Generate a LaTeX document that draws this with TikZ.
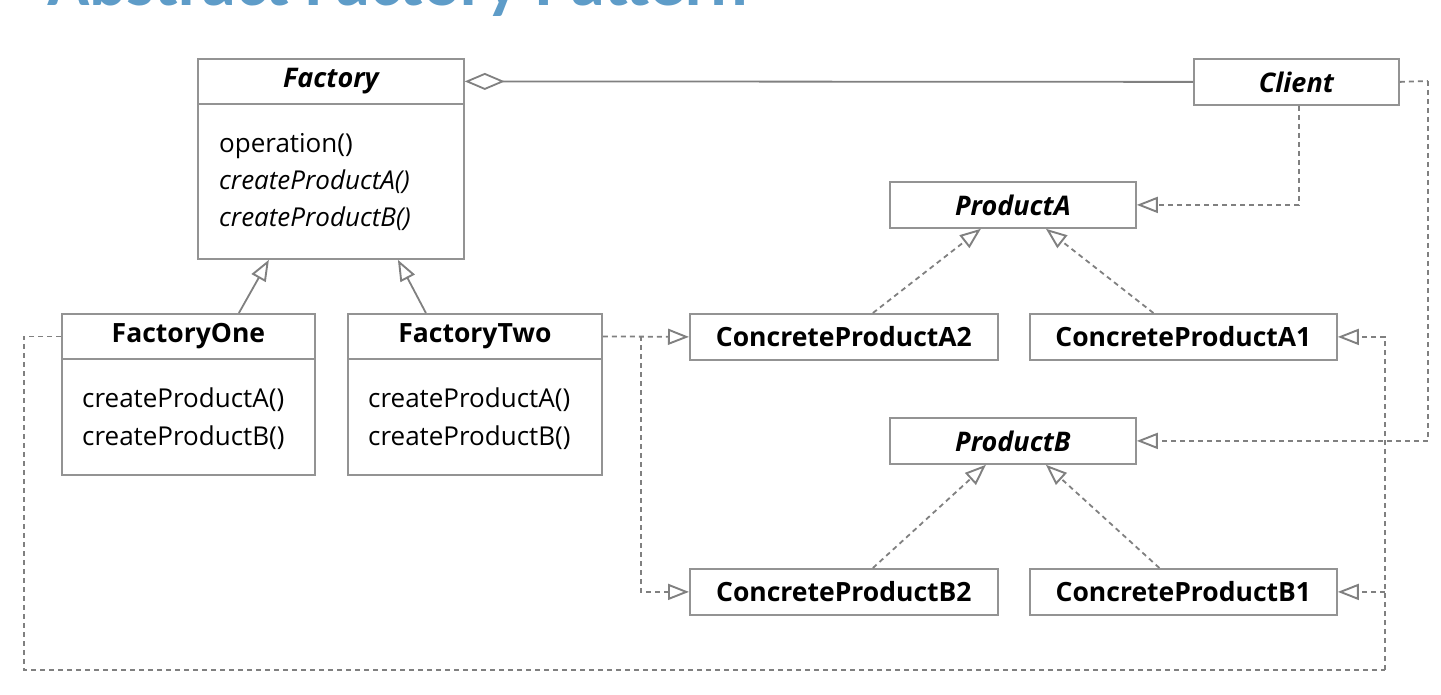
\documentclass[tikz,border=0pt]{standalone}
\usepackage{fontspec}
\setmainfont{Open Sans}
\newfontfamily\titlefont{Carlito}
\usetikzlibrary{arrows.meta}
\definecolor{boxgray}{HTML}{939393}
\definecolor{linegray}{HTML}{808080}
\definecolor{titleblue}{HTML}{5E9CC8}
\begin{document}
\begin{tikzpicture}[x=1pt,y=-1pt,
  box/.style={draw=boxgray,line width=1.8pt,inner sep=0pt,anchor=north west,fill=white},
  hdr/.style={box,minimum height=45pt,font=\fontsize{26.5}{30}\selectfont\bfseries},
  ihdr/.style={hdr,font=\fontsize{27}{30}\selectfont\bfseries\itshape},
  body/.style={box},
  meth/.style={anchor=base west,inner sep=0pt,font=\fontsize{26}{30}\selectfont},
  imeth/.style={meth,font=\fontsize{26}{30}\selectfont\itshape},
  gen/.style={draw=linegray,line width=1.8pt,-{Triangle[open,length=21pt,width=16pt,line width=1.9pt,fill=white]}},
  real/.style={gen,dash pattern=on 5pt off 4pt},
  plain/.style={draw=linegray,line width=1.8pt,dash pattern=on 5pt off 4pt},
  agg/.style={draw=linegray,line width=1.8pt,{Diamond[open,length=40pt,width=17pt,fill=white]}-}
]
\useasboundingbox (0,0) rectangle (1441,695);
\begin{scope}
\clip (0,0) rectangle (1441,695);
\node[anchor=base west,inner sep=0pt,text=titleblue,font=\titlefont\fontsize{70}{70}\selectfont\bfseries] (title) at (47,6) {Abstract Factory Pattern};
\end{scope}

% Factory
\node[ihdr,minimum width=266pt] (fac) at (197,58) {\raisebox{-2pt}{Factory}};
\node[body,minimum width=266pt,minimum height=155pt] (facb) at (197,103) {};
\node[meth] (fop) at (219,153) {operation()};
\node[imeth] (fca) at (219,190) {createProductA()};
\node[imeth] (fcb) at (219,227) {createProductB()};

% FactoryOne
\node[hdr,minimum width=253pt] (f1h) at (61,313) {\raisebox{-2pt}{FactoryOne}};
\node[body,minimum width=253pt,minimum height=116pt] (f1b) at (61,358) {};
\node[meth] (f1a) at (82,407) {createProductA()};
\node[meth] (f1c) at (82,445) {createProductB()};

% FactoryTwo
\node[hdr,minimum width=254pt] (f2h) at (347,313) {\raisebox{-2pt}{FactoryTwo}};
\node[body,minimum width=254pt,minimum height=116pt] (f2b) at (347,358) {};
\node[meth] (f2a) at (368,407) {createProductA()};
\node[meth] (f2c) at (368,445) {createProductB()};

% Client
\node[ihdr,minimum width=205pt,minimum height=46pt] (client) at (1193,58) {Client};

% Products
\node[ihdr,minimum width=246pt,minimum height=46pt] (pa) at (889,181) {ProductA};
\node[ihdr,minimum width=246pt,minimum height=46pt] (pb) at (889,417) {ProductB};
\node[hdr,minimum width=308pt,minimum height=46pt] (ca2) at (689,313) {ConcreteProductA2};
\node[hdr,minimum width=307pt,minimum height=46pt] (ca1) at (1029,313) {ConcreteProductA1};
\node[hdr,minimum width=308pt,minimum height=46pt] (cb2) at (689,568) {ConcreteProductB2};
\node[hdr,minimum width=307pt,minimum height=46pt] (cb1) at (1029,568) {ConcreteProductB1};

% generalization
\draw[gen] ([xshift=50.5pt]f1h.north) -- ([xshift=-62pt]facb.south);
\draw[gen] ([xshift=-49pt]f2h.north) -- ([xshift=67pt]facb.south);

% aggregation
\draw[agg] (fac.east) -- (client.west);

% realizations
\draw[real] ([xshift=29pt]ca2.north) -- ([xshift=-32pt]pa.south);
\draw[real] ([xshift=-30pt]ca1.north) -- ([xshift=33pt]pa.south);
\draw[real] ([xshift=29pt]cb2.north) -- ([xshift=-27pt]pb.south);
\draw[real] ([xshift=-24pt]cb1.north) -- ([xshift=33pt]pb.south);

% client dependencies
\draw[real] ([xshift=2.5pt]client.south) |- (pa.east);
\coordinate (cr) at (1428,81);
\draw[plain] (client.east) -- (cr);
\draw[real] (cr) |- (pb.east);

% FactoryTwo dependencies
\coordinate (j1) at (641,336);
\draw[real] (f2h.east) -- (ca2.west);
\draw[real] (j1) |- (cb2.west);

% FactoryOne dependencies
\coordinate (lb) at (24,670);
\coordinate (rb) at (1385,670);
\draw[plain] (f1h.west) -| (lb) -- (rb);
\draw[real] (rb) |- (ca1.east);
\draw[real] (rb |- cb1.east) -- (cb1.east);
\end{tikzpicture}
\end{document}
